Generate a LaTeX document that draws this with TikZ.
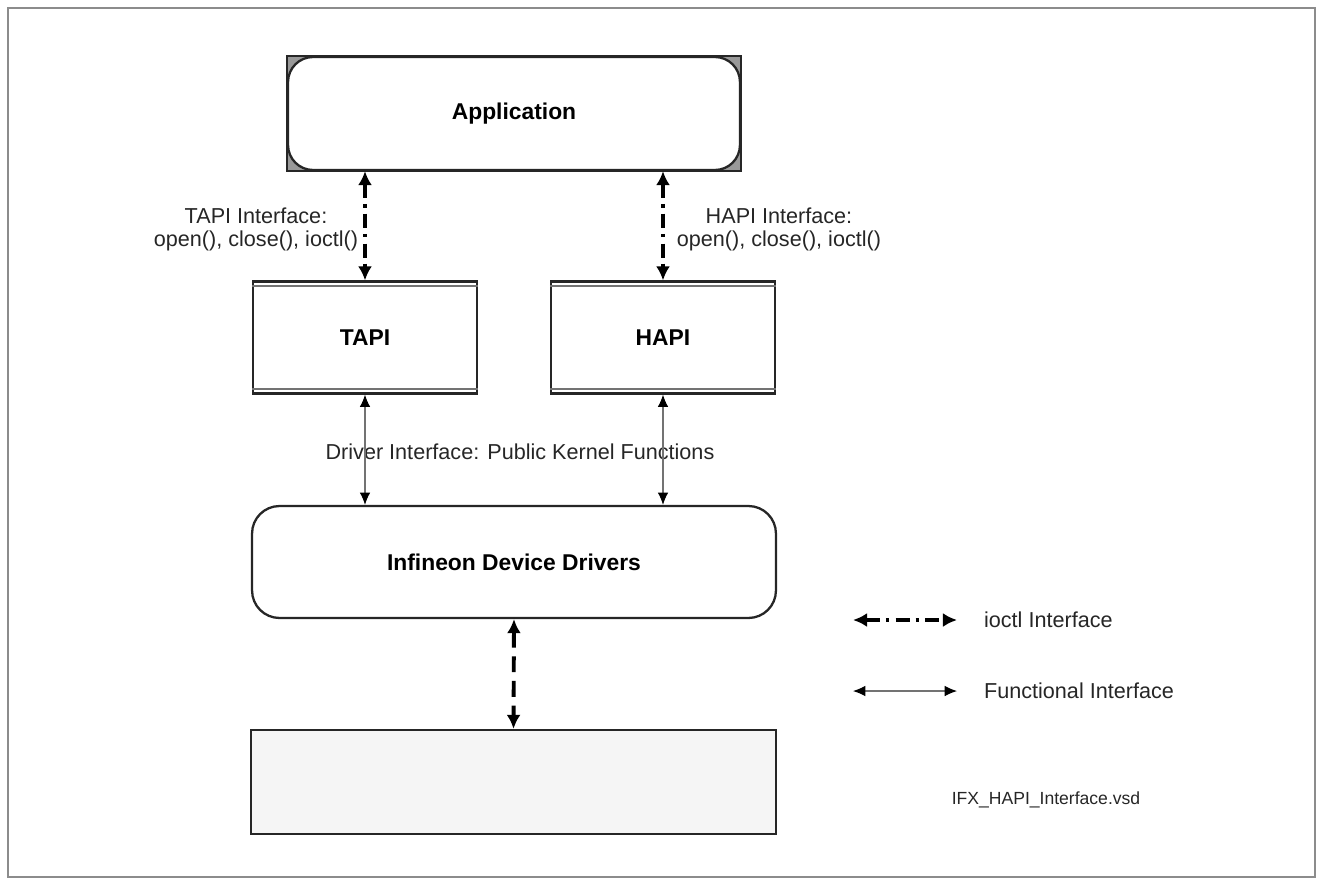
\documentclass[tikz,border=0pt]{standalone}
\usepackage{fontspec}
\setmainfont{Liberation Sans}
\usetikzlibrary{arrows.meta, positioning, backgrounds}
\tikzset{
    semithick,
    block/.style = {rectangle, draw=black!85, line width=1.3pt, fill=white,
                    font=\fontsize{13}{15}\selectfont\bfseries},
    roundblock/.style = {block, rounded corners=0.5cm},
    txt/.style = {font=\fontsize{12.3}{13}\selectfont, text=black!85, inner sep=1pt},
    ioctl/.style = {{Latex[length=8pt,width=8pt]}-{Latex[length=8pt,width=8pt]},
                    line width=2.2pt, dash pattern={on 8pt off 3.5pt on 2pt off 3.5pt}},
    ioctldash/.style = {ioctl, dash pattern={on 9pt off 5pt}},
    func/.style = {{Latex[color=black,length=7pt,width=6pt]}-{Latex[color=black,length=7pt,width=6pt]},
                   draw=black!55, line width=0.6pt}
}

\begin{document}
\begin{tikzpicture}[x=0.02cm, y=-0.02cm]
    \useasboundingbox (0,0) rectangle (1323,880);
    \draw[black!45, line width=1pt] (8,8) rectangle (1315,877);

    % blocks
    \node (app) at (514,113.5) [roundblock, minimum width=9.04cm, minimum height=2.26cm] {Application};
    \node (tapi) at (365,337.5) [block, minimum width=4.48cm, minimum height=2.24cm] {TAPI};
    \node (hapi) at (663,337.5) [block, minimum width=4.48cm, minimum height=2.24cm] {HAPI};
    \node (idd) at (514,562) [roundblock, rounded corners=0.55cm, minimum width=10.48cm, minimum height=2.24cm] {Infineon Device Drivers};
    \node (dev) at (513.5,782) [block, fill=black!4, minimum width=10.5cm, minimum height=2.08cm] {};

    \begin{scope}[on background layer]
        \draw[black!85, line width=1.3pt, fill=black!40] (app.north west) rectangle (app.south east);
    \end{scope}
    \foreach \n in {tapi,hapi} {
        \draw[black!55, line width=0.8pt] ([yshift=-0.11cm]\n.north west) -- ([yshift=-0.11cm]\n.north east);
        \draw[black!55, line width=0.8pt] ([yshift=0.11cm]\n.south west) -- ([yshift=0.11cm]\n.south east);
    }

    % labels
    \node (tapilbl) at (256,229) [txt, align=center] {TAPI Interface:\\open(), close(), ioctl()};
    \node (hapilbl) at (779,229) [txt, align=center] {HAPI Interface:\\open(), close(), ioctl()};
    \node (drvlbl) at (520,452) [txt] {Driver Interface: Public Kernel Functions};

    % interfaces
    \draw[ioctl] (app.south -| tapi.north) -- (tapi.north);
    \draw[ioctl] (app.south -| hapi.north) -- (hapi.north);
    \draw[func] (tapi.south) -- (tapi.south |- idd.north);
    \draw[func] (hapi.south) -- (hapi.south |- idd.north);
    \draw[ioctldash] (idd.south) -- (dev.north);

    % legend
    \coordinate (ioa) at (853,620);
    \coordinate (iob) at (957,620);
    \coordinate (fua) at (853,691);
    \coordinate (fub) at (957,691);
    \draw[ioctl] (ioa) -- (iob);
    \draw[func] (fua) -- (fub);
    \node (iolbl) [txt, anchor=west, right=0.5cm of iob] {ioctl Interface};
    \node (fulbl) [txt, anchor=west, right=0.5cm of fub] {Functional Interface};
    \node (filelbl) at (1046,800) [txt, font=\fontsize{10}{12}\selectfont] {IFX\_HAPI\_Interface.vsd};
\end{tikzpicture}
\end{document}
